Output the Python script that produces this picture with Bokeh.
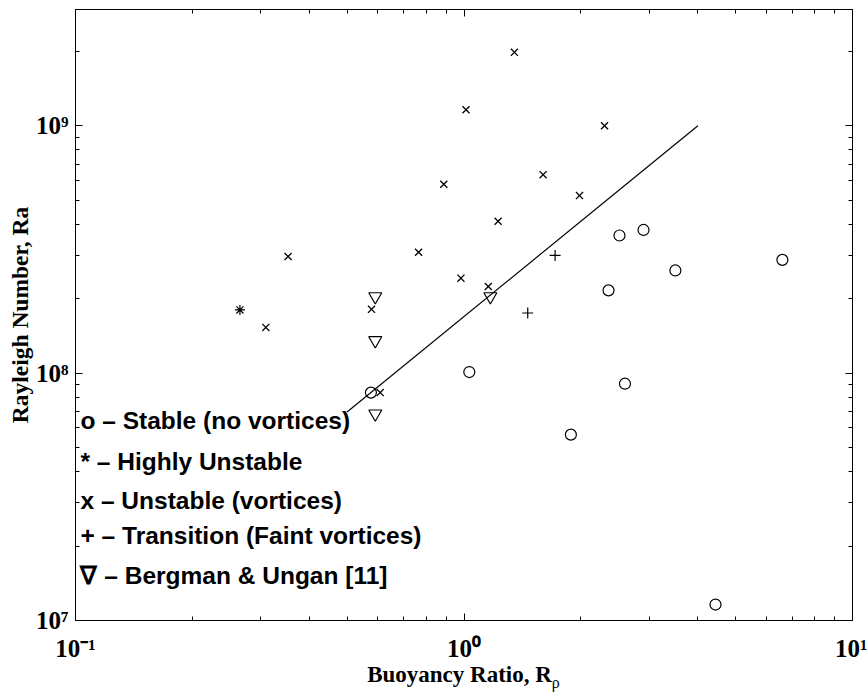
from bokeh.plotting import figure
from bokeh.models import LogAxis, FixedTicker, Label, Range1d, Div
from bokeh.layouts import column
from bokeh.embed import file_html
from bokeh.resources import INLINE

# ---- data ----
stable_x = [0.576, 1.032, 1.884, 2.355, 2.513, 2.596, 2.898, 3.50, 6.6, 4.44]
stable_y = [8.34e7, 1.01e8, 5.64e7, 2.16e8, 3.6e8, 9.06e7, 3.79e8, 2.6e8, 2.87e8, 1.16e7]

highly_x = [0.265]
highly_y = [1.80e8]

unstable_x = [0.309, 0.3525, 0.578, 0.6086, 0.764, 0.887, 0.982, 1.012, 1.155,
              1.224, 1.348, 1.598, 1.983, 2.30]
unstable_y = [1.53e8, 2.96e8, 1.81e8, 8.34e7, 3.08e8, 5.8e8, 2.42e8, 1.16e9, 2.24e8,
              4.11e8, 1.98e9, 6.34e8, 5.22e8, 1.0e9]

transition_x = [1.459, 1.716]
transition_y = [1.75e8, 2.99e8]

bergman_x = [0.591, 0.591, 0.591, 1.169]
bergman_y = [2.04e8, 1.355e8, 6.85e7, 2.04e8]

fit_x = [0.5, 4.0]
fit_y = [6.96e7, 1.0e9]

legend_texts = ["o \u2013 Stable (no vortices)",
                "* \u2013 Highly Unstable",
                "x \u2013 Unstable (vortices)",
                "+ \u2013 Transition (Faint vortices)",
                "\u2207 \u2013 Bergman & Ungan [11]"]
legend_y = [6.44e7, 4.40e7, 3.06e7, 2.21e7, 1.52e7]

x_major = [0.1, 1, 10]
x_minor = [0.2, 0.3, 0.4, 0.5, 0.6, 0.7, 0.8, 0.9, 2, 3, 4, 5, 6, 7, 8, 9]
x_labels = {0.1: "10\u207b\u00b9", 1: "10\u2070", 10: "10\u00b9"}
y_major = [1e7, 1e8, 1e9]
y_minor = [2e7, 3e7, 4e7, 5e7, 6e7, 7e7, 8e7, 9e7,
           2e8, 3e8, 4e8, 5e8, 6e8, 7e8, 8e8, 9e8, 2e9]
y_labels = {1e7: "10\u2077", 1e8: "10\u2078", 1e9: "10\u2079"}

x_title = "Buoyancy Ratio, R"
x_title_sub = "\u03c1"
y_title = "Rayleigh Number, Ra"

SERIF = "Liberation Serif"
SANS = "Liberation Sans"

p = figure(width=867, height=665, x_axis_type="log", y_axis_type="log",
           x_range=Range1d(0.1, 10), y_range=Range1d(1e7, 2.95e9),
           output_backend="svg", toolbar_location=None,
           min_border_left=75, min_border_right=15, min_border_top=9,
           min_border_bottom=45)
p.grid.visible = False
p.outline_line_color = "black"
p.outline_line_width = 1
p.background_fill_color = "white"
p.border_fill_color = "white"


def style_axis(ax, ticks, minor, labels, show_labels):
    ax.ticker = FixedTicker(ticks=ticks, minor_ticks=minor)
    ax.major_tick_in = 7
    ax.major_tick_out = 0
    ax.minor_tick_in = 4
    ax.minor_tick_out = 0
    ax.axis_line_color = "black"
    ax.major_tick_line_color = "black"
    ax.minor_tick_line_color = "black"
    if show_labels:
        ax.major_label_overrides = labels
        ax.major_label_text_font = SERIF
        ax.major_label_text_font_style = "bold"
        ax.major_label_text_font_size = "25px"
        ax.major_label_text_color = "black"
    else:
        ax.major_label_text_alpha = 0
        ax.major_label_text_font_size = "1px"
        ax.major_label_standoff = 0


xax = p.xaxis[0]
yax = p.yaxis[0]
style_axis(xax, x_major, x_minor, x_labels, True)
style_axis(yax, y_major, y_minor, y_labels, True)
xax.major_label_standoff = 14
yax.major_label_standoff = 7
yax.axis_label = y_title
yax.axis_label_text_font = SERIF
yax.axis_label_text_font_style = "bold"
yax.axis_label_text_font_size = "23.5px"
yax.axis_label_text_color = "black"
yax.axis_label_standoff = 0

top = LogAxis()
right = LogAxis()
style_axis(top, x_major, x_minor, x_labels, False)
style_axis(right, y_major, y_minor, y_labels, False)
p.add_layout(top, "above")
p.add_layout(right, "right")

# fit line
p.line(fit_x, fit_y, line_color="black", line_width=1.2)

# markers
p.scatter(stable_x, stable_y, marker="circle", size=11, fill_color=None,
          line_color="black", line_width=1.2)
p.scatter(highly_x, highly_y, marker="asterisk", size=10, line_color="black",
          line_width=1.2)
p.scatter(unstable_x, unstable_y, marker="x", size=10, line_color="black",
          line_width=1.3)
p.scatter(transition_x, transition_y, marker="cross", size=11,
          line_color="black", line_width=1.2)
p.scatter(bergman_x, bergman_y, marker="inverted_triangle", size=13,
          fill_color=None, line_color="black", line_width=1.2)

# legend-like text lines
for t, yy in zip(legend_texts, legend_y):
    p.add_layout(Label(x=0.103, y=yy, text=t, text_font=SANS,
                       text_font_style="bold", text_font_size="24.5px",
                       text_baseline="middle", text_align="left",
                       text_color="black"))

# x axis title with subscript rho, as real HTML text below the plot
title_div = Div(
    text=(x_title + '<sub style="font-weight:normal;font-size:16px;">'
          + x_title_sub + '</sub>'),
    width=807, height=30, margin=(0, 0, 0, 60),
    styles={"font-family": "'Liberation Serif', serif", "font-weight": "bold",
            "font-size": "23px", "text-align": "center", "color": "black",
            "line-height": "20px"})

layout = column(p, title_div, spacing=0)
open("out.html", "w").write(file_html(layout, INLINE))
